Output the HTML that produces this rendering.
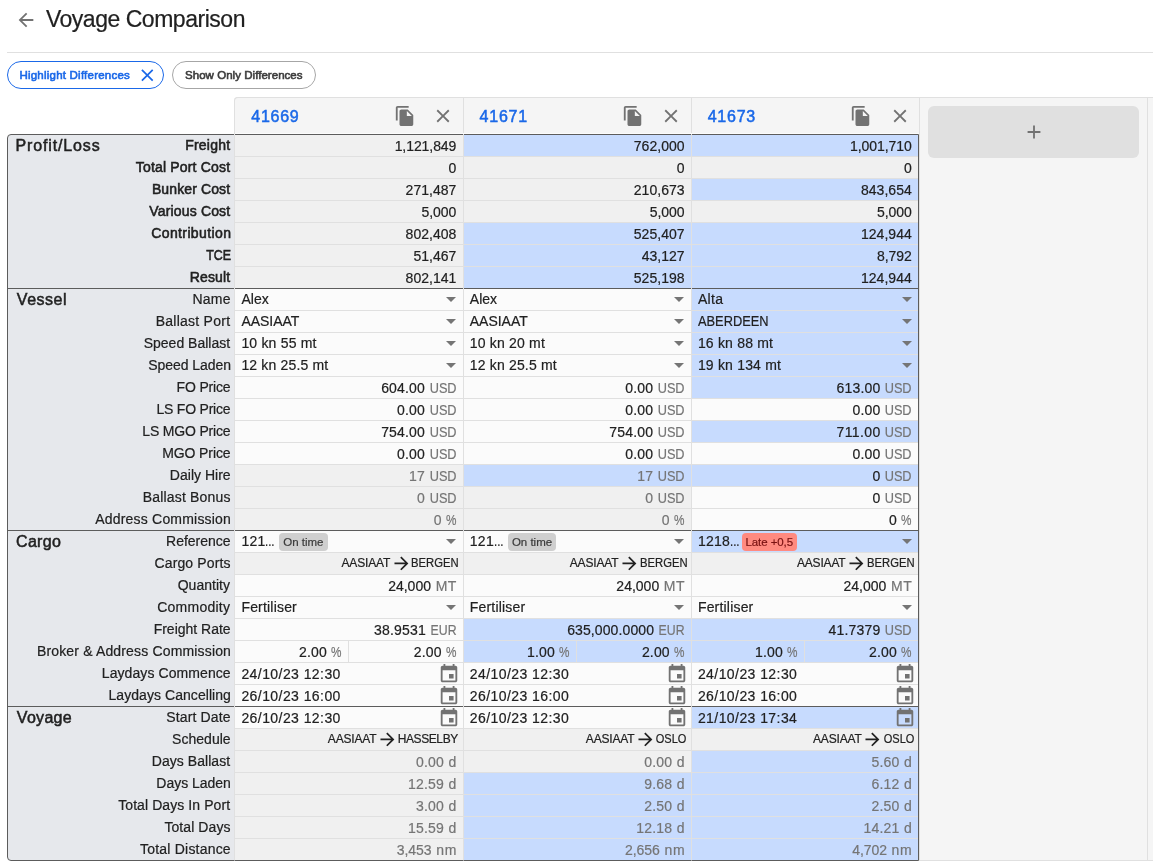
<!DOCTYPE html>
<html lang="en"><head><meta charset="utf-8"><title>Voyage Comparison</title>
<style>
html,body{margin:0;padding:0}
body{width:1153px;height:867px;position:relative;overflow:hidden;background:#fff;
  font-family:"Liberation Sans",sans-serif;font-size:14px;color:#212121}
body *{box-sizing:border-box}
div,span,svg,i,b{position:absolute;white-space:nowrap}
.root{left:0;top:0;width:1153px;height:867px;will-change:transform}
span{font-size:14px;line-height:16px;-webkit-text-stroke:0.2px currentColor}
.ic{display:block}
.title{font-size:23px;line-height:26px;color:#212121}
.hr{left:7px;top:52px;width:1146px;height:1px;background:#e0e0e0}
.chip1{left:7px;top:61px;width:157px;height:28px;border:1px solid #1a68e8;border-radius:14px}
.chip2{left:172px;top:61px;width:144px;height:28px;border:1px solid #a6a6a6;border-radius:14px}
.ch1,.ch2{font-size:11.5px;line-height:13px;-webkit-text-stroke:0.6px currentColor}
.ch1{color:#1a68e8}
.ch2{color:#3c3c3c}

.hdrbg{left:234px;top:97px;width:919px;border-top-left-radius:4px;height:764px;background:#f5f5f5;border-top:1px solid #e0e0e0;border-bottom:1px solid #e0e0e0}
.hc{top:97px;height:38px;border-left:1px solid #e0e0e0;border-top:1px solid #e0e0e0;background:#f5f5f5}
.hc.first{border-top-left-radius:4px}
.hc.tall{height:764px;border-bottom:1px solid #e0e0e0}
.vid{font-size:16px;line-height:17px;color:#1a68e8;-webkit-text-stroke:0.5px currentColor}
.plus{left:928px;top:106px;width:211px;height:52px;border-radius:6px;background:#e0e0e0}

.tbl{left:7px;top:134px;width:912px;border:1px solid #5c5c5c;border-radius:4px 0 0 4px;background:#e6e8ec}
.sec{font-size:16px;line-height:17px;-webkit-text-stroke:0.5px currentColor;color:#212121}
.l{color:#212121}
.l.b{-webkit-text-stroke:0.55px currentColor}
.hw{left:235px;top:133px;width:684px;height:1px;background:#fcfcfc}
.vb{top:134px;width:1px;height:1px;background:#e0e0e0}
.secline{left:8px;width:226px;height:1px;background:#5c5c5c}

.c{height:22px;background:#fbfbfb;border-left:1px solid #e0e0e0;border-bottom:1px solid #e0e0e0;overflow:hidden}
.c.ro{background:#f0f0f0}
.c.hl{background:#c7dbfe}
.c.lr{border-bottom-color:#5c5c5c}
.u,.g{color:#757575}
.pc{transform-origin:100% 50%}
.r{font-size:12px;line-height:14px}
.dd{top:7.900px}
.vd{top:0;width:1px;height:21px;background:#e0e0e0}
.chip{top:2px;height:17.500px;border-radius:4px}
.chip.ontime{background:#cfcfcf}
.chip.late{background:#ff8a80}
.ct{font-size:11.5px;line-height:13px;color:#3a3a3a}
.ct.late{color:#7a1212;background:none}
.ct.ontime{background:none}

</style></head>
<body>
<div class="root">

<svg class="ic" style="left:15.2px;top:9.2px" width="22" height="22" viewBox="0 0 24 24"><path d="M20 11H7.830l5.590-5.590L12 4l-8 8 8 8 1.410-1.410L7.830 13H20v-2z" fill="#727272"/></svg>
<span class="title" style="top:6px;left:45.88px;letter-spacing:-0.47px;">Voyage Comparison</span>
<div class="hr"></div>
<div class="chip1"></div>
<span class="ch1" style="top:69px;left:19.46px;letter-spacing:0.22px;">Highlight Differences</span>
<svg class="ic" style="left:136.7px;top:64.7px" width="20.6" height="20.6" viewBox="0 0 24 24"><path d="M19 6.410L17.590 5 12 10.590 6.410 5 5 6.410 10.590 12 5 17.590 6.410 19 12 13.410 17.590 19 19 17.590 13.410 12z" fill="#1a68e8"/></svg>
<div class="chip2"></div>
<span class="ch2" style="top:69px;left:185px;letter-spacing:0.04px;">Show Only Differences</span>
<div class="hdrbg"></div>
<div class="hc first" style="left:234px;width:229px"><span class="vid" style="top:10px;left:16.22px;letter-spacing:0.76px;">41669</span><svg class="ic" style="left:158.8px;top:7.3px" width="22" height="22" viewBox="0 0 24 24"><path d="M16 1H4c-1.100 0-2 .900-2 2v14h2V3h12V1zm-1 4l6 6v10c0 1.100-.900 2-2 2H7.990C6.890 23 6 22.100 6 21l.010-14c0-1.100.890-2 1.990-2h7zm-1 7h5.500L14 6.500V12z" fill="#727272"/></svg><svg class="ic" style="left:197.2px;top:7.2px" width="22" height="22" viewBox="0 0 24 24"><path d="M19 6.410L17.590 5 12 10.590 6.410 5 5 6.410 10.590 12 5 17.590 6.410 19 12 13.410 17.590 19 19 17.590 13.410 12z" fill="#727272"/></svg></div>
<div class="hc" style="left:463px;width:228px"><span class="vid" style="top:10px;left:15.62px;letter-spacing:0.76px;">41671</span><svg class="ic" style="left:157.8px;top:7.3px" width="22" height="22" viewBox="0 0 24 24"><path d="M16 1H4c-1.100 0-2 .900-2 2v14h2V3h12V1zm-1 4l6 6v10c0 1.100-.900 2-2 2H7.990C6.890 23 6 22.100 6 21l.010-14c0-1.100.890-2 1.990-2h7zm-1 7h5.500L14 6.500V12z" fill="#727272"/></svg><svg class="ic" style="left:196.2px;top:7.2px" width="22" height="22" viewBox="0 0 24 24"><path d="M19 6.410L17.590 5 12 10.590 6.410 5 5 6.410 10.590 12 5 17.590 6.410 19 12 13.410 17.590 19 19 17.590 13.410 12z" fill="#727272"/></svg></div>
<div class="hc" style="left:691px;width:228px"><span class="vid" style="top:10px;left:15.73px;letter-spacing:0.74px;">41673</span><svg class="ic" style="left:158.3px;top:7.3px" width="22" height="22" viewBox="0 0 24 24"><path d="M16 1H4c-1.100 0-2 .900-2 2v14h2V3h12V1zm-1 4l6 6v10c0 1.100-.900 2-2 2H7.990C6.890 23 6 22.100 6 21l.010-14c0-1.100.890-2 1.990-2h7zm-1 7h5.500L14 6.500V12z" fill="#727272"/></svg><svg class="ic" style="left:196.7px;top:7.2px" width="22" height="22" viewBox="0 0 24 24"><path d="M19 6.410L17.590 5 12 10.590 6.410 5 5 6.410 10.590 12 5 17.590 6.410 19 12 13.410 17.590 19 19 17.590 13.410 12z" fill="#727272"/></svg></div>
<div class="hc tall" style="left:919px;width:228px"></div>
<div class="hc tall" style="left:1147px;width:6px"></div>
<div class="plus"><svg class="ic" style="left:95.2px;top:15.2px" width="22" height="22" viewBox="0 0 24 24"><path d="M19 13h-6v6h-2v-6H5v-2h6V5h2v6h6v2z" fill="#727272"/></svg></div>
<div class="tbl" style="height:727px"></div>
<i class="hw"></i>
<i class="vb" style="left:234px"></i>
<i class="vb" style="left:463px"></i>
<i class="vb" style="left:691px"></i>
<span class="sec" style="top:137px;left:15.59px;letter-spacing:0.85px;">Profit/Loss</span>
<span class="l b" style="top:137px;right:922.71px;letter-spacing:0.22px;">Freight</span>
<div class="c ro" style="left:234px;top:135px;width:229px"><span class="n" style="top:3px;right:6.72px;letter-spacing:-0.07px;">1,121,849</span></div>
<div class="c ro hl" style="left:463px;top:135px;width:228px"><span class="n" style="top:3px;right:6.42px;letter-spacing:0.03px;">762,000</span></div>
<div class="c ro hl" style="left:691px;top:135px;width:227px"><span class="n" style="top:3px;right:6.32px;letter-spacing:-0.07px;">1,001,710</span></div>
<span class="l b" style="top:159px;right:922.76px;letter-spacing:0.18px;">Total Port Cost</span>
<div class="c ro" style="left:234px;top:157px;width:229px"><span class="n" style="top:3px;right:6.65px;">0</span></div>
<div class="c ro" style="left:463px;top:157px;width:228px"><span class="n" style="top:3px;right:6.45px;">0</span></div>
<div class="c ro" style="left:691px;top:157px;width:227px"><span class="n" style="top:3px;right:6.25px;">0</span></div>
<span class="l b" style="top:181px;right:922.78px;letter-spacing:0.12px;">Bunker Cost</span>
<div class="c ro" style="left:234px;top:179px;width:229px"><span class="n" style="top:3px;right:6.62px;letter-spacing:0.03px;">271,487</span></div>
<div class="c ro" style="left:463px;top:179px;width:228px"><span class="n" style="top:3px;right:6.42px;letter-spacing:0.03px;">210,673</span></div>
<div class="c ro hl" style="left:691px;top:179px;width:227px"><span class="n" style="top:3px;right:6.22px;letter-spacing:0.03px;">843,654</span></div>
<span class="l b" style="top:203px;right:922.74px;letter-spacing:0.15px;">Various Cost</span>
<div class="c ro" style="left:234px;top:201px;width:229px"><span class="n" style="top:3px;right:6.71px;letter-spacing:-0.06px;">5,000</span></div>
<div class="c ro" style="left:463px;top:201px;width:228px"><span class="n" style="top:3px;right:6.51px;letter-spacing:-0.06px;">5,000</span></div>
<div class="c ro" style="left:691px;top:201px;width:227px"><span class="n" style="top:3px;right:6.31px;letter-spacing:-0.06px;">5,000</span></div>
<span class="l b" style="top:225px;right:921.69px;letter-spacing:0.38px;">Contribution</span>
<div class="c ro" style="left:234px;top:223px;width:229px"><span class="n" style="top:3px;right:6.62px;letter-spacing:0.03px;">802,408</span></div>
<div class="c ro hl" style="left:463px;top:223px;width:228px"><span class="n" style="top:3px;right:6.42px;letter-spacing:0.03px;">525,407</span></div>
<div class="c ro hl" style="left:691px;top:223px;width:227px"><span class="n" style="top:3px;right:6.22px;letter-spacing:0.03px;">124,944</span></div>
<span class="l b" style="top:247px;right:922.44px;transform:scaleX(0.8848);transform-origin:100% 50%;">TCE</span>
<div class="c ro" style="left:234px;top:245px;width:229px"><span class="n" style="top:3px;right:6.65px;">51,467</span></div>
<div class="c ro hl" style="left:463px;top:245px;width:228px"><span class="n" style="top:3px;right:6.45px;">43,127</span></div>
<div class="c ro hl" style="left:691px;top:245px;width:227px"><span class="n" style="top:3px;right:6.31px;letter-spacing:-0.06px;">8,792</span></div>
<span class="l b" style="top:269px;right:922.82px;letter-spacing:0.12px;">Result</span>
<div class="c ro lr" style="left:234px;top:267px;width:229px"><span class="n" style="top:3px;right:6.62px;letter-spacing:0.03px;">802,141</span></div>
<div class="c ro hl lr" style="left:463px;top:267px;width:228px"><span class="n" style="top:3px;right:6.42px;letter-spacing:0.03px;">525,198</span></div>
<div class="c ro hl lr" style="left:691px;top:267px;width:227px"><span class="n" style="top:3px;right:6.22px;letter-spacing:0.03px;">124,944</span></div>
<div class="secline" style="top:288px"></div>
<i class="vb" style="left:234px;top:288px"></i>
<i class="vb" style="left:463px;top:288px"></i>
<i class="vb" style="left:691px;top:288px"></i>
<span class="sec" style="top:291px;left:16.84px;letter-spacing:0.52px;">Vessel</span>
<span class="l" style="top:291px;right:922.11px;letter-spacing:0.29px;">Name</span>
<div class="c" style="left:234px;top:289px;width:229px"><span class="t" style="top:2px;left:6.4px;letter-spacing:0.03px;">Alex</span><svg class="dd" style="left:211.2px" width="10" height="5" viewBox="0 0 10 5"><path d="M0 0h10L5 5z" fill="#757575"/></svg></div>
<div class="c" style="left:463px;top:289px;width:228px"><span class="t" style="top:2px;left:5.8px;letter-spacing:0.03px;">Alex</span><svg class="dd" style="left:210.4px" width="10" height="5" viewBox="0 0 10 5"><path d="M0 0h10L5 5z" fill="#757575"/></svg></div>
<div class="c hl" style="left:691px;top:289px;width:227px"><span class="t" style="top:2px;left:5.9px;letter-spacing:0.35px;">Alta</span><svg class="dd" style="left:209.6px" width="10" height="5" viewBox="0 0 10 5"><path d="M0 0h10L5 5z" fill="#757575"/></svg></div>
<span class="l" style="top:313px;right:922.66px;letter-spacing:0.26px;">Ballast Port</span>
<div class="c" style="left:234px;top:311px;width:229px"><span class="t" style="top:2px;left:6.4px;letter-spacing:-0.03px;">AASIAAT</span><svg class="dd" style="left:211.2px" width="10" height="5" viewBox="0 0 10 5"><path d="M0 0h10L5 5z" fill="#757575"/></svg></div>
<div class="c" style="left:463px;top:311px;width:228px"><span class="t" style="top:2px;left:5.8px;letter-spacing:-0.03px;">AASIAAT</span><svg class="dd" style="left:210.4px" width="10" height="5" viewBox="0 0 10 5"><path d="M0 0h10L5 5z" fill="#757575"/></svg></div>
<div class="c hl" style="left:691px;top:311px;width:227px"><span class="t" style="top:2px;left:5.9px;transform:scaleX(0.9160);transform-origin:0 50%;">ABERDEEN</span><svg class="dd" style="left:209.6px" width="10" height="5" viewBox="0 0 10 5"><path d="M0 0h10L5 5z" fill="#757575"/></svg></div>
<span class="l" style="top:335px;right:922.92px;">Speed Ballast</span>
<div class="c" style="left:234px;top:333px;width:229px"><span class="t" style="top:2px;left:6.4px;letter-spacing:0.19px;">10 kn 55 mt</span><svg class="dd" style="left:211.2px" width="10" height="5" viewBox="0 0 10 5"><path d="M0 0h10L5 5z" fill="#757575"/></svg></div>
<div class="c" style="left:463px;top:333px;width:228px"><span class="t" style="top:2px;left:5.8px;letter-spacing:0.19px;">10 kn 20 mt</span><svg class="dd" style="left:210.4px" width="10" height="5" viewBox="0 0 10 5"><path d="M0 0h10L5 5z" fill="#757575"/></svg></div>
<div class="c hl" style="left:691px;top:333px;width:227px"><span class="t" style="top:2px;left:5.9px;letter-spacing:0.19px;">16 kn 88 mt</span><svg class="dd" style="left:209.6px" width="10" height="5" viewBox="0 0 10 5"><path d="M0 0h10L5 5z" fill="#757575"/></svg></div>
<span class="l" style="top:357px;right:922.14px;letter-spacing:-0.07px;">Speed Laden</span>
<div class="c" style="left:234px;top:355px;width:229px"><span class="t" style="top:2px;left:6.4px;letter-spacing:0.17px;">12 kn 25.5 mt</span><svg class="dd" style="left:211.2px" width="10" height="5" viewBox="0 0 10 5"><path d="M0 0h10L5 5z" fill="#757575"/></svg></div>
<div class="c" style="left:463px;top:355px;width:228px"><span class="t" style="top:2px;left:5.8px;letter-spacing:0.17px;">12 kn 25.5 mt</span><svg class="dd" style="left:210.4px" width="10" height="5" viewBox="0 0 10 5"><path d="M0 0h10L5 5z" fill="#757575"/></svg></div>
<div class="c hl" style="left:691px;top:355px;width:227px"><span class="t" style="top:2px;left:5.9px;letter-spacing:0.19px;">19 kn 134 mt</span><svg class="dd" style="left:209.6px" width="10" height="5" viewBox="0 0 10 5"><path d="M0 0h10L5 5z" fill="#757575"/></svg></div>
<span class="l" style="top:379px;right:922.57px;letter-spacing:-0.17px;">FO Price</span>
<div class="c" style="left:234px;top:377px;width:229px"><span class="u" style="top:3px;right:6.65px;transform:scaleX(0.9088);transform-origin:100% 50%;">USD</span><span class="n" style="top:3px;right:37.98px;letter-spacing:0.18px;">604.00</span></div>
<div class="c" style="left:463px;top:377px;width:228px"><span class="u" style="top:3px;right:6.45px;transform:scaleX(0.9088);transform-origin:100% 50%;">USD</span><span class="n" style="top:3px;right:37.81px;letter-spacing:0.16px;">0.00</span></div>
<div class="c hl" style="left:691px;top:377px;width:227px"><span class="u" style="top:3px;right:6.25px;transform:scaleX(0.9088);transform-origin:100% 50%;">USD</span><span class="n" style="top:3px;right:37.58px;letter-spacing:0.18px;">613.00</span></div>
<span class="l" style="top:401px;right:922.58px;letter-spacing:-0.2px;">LS FO Price</span>
<div class="c" style="left:234px;top:399px;width:229px"><span class="u" style="top:3px;right:6.65px;transform:scaleX(0.9088);transform-origin:100% 50%;">USD</span><span class="n" style="top:3px;right:38.01px;letter-spacing:0.16px;">0.00</span></div>
<div class="c" style="left:463px;top:399px;width:228px"><span class="u" style="top:3px;right:6.45px;transform:scaleX(0.9088);transform-origin:100% 50%;">USD</span><span class="n" style="top:3px;right:37.81px;letter-spacing:0.16px;">0.00</span></div>
<div class="c" style="left:691px;top:399px;width:227px"><span class="u" style="top:3px;right:6.25px;transform:scaleX(0.9088);transform-origin:100% 50%;">USD</span><span class="n" style="top:3px;right:37.61px;letter-spacing:0.16px;">0.00</span></div>
<span class="l" style="top:423px;right:922.57px;letter-spacing:-0.18px;">LS MGO Price</span>
<div class="c" style="left:234px;top:421px;width:229px"><span class="u" style="top:3px;right:6.65px;transform:scaleX(0.9088);transform-origin:100% 50%;">USD</span><span class="n" style="top:3px;right:37.98px;letter-spacing:0.18px;">754.00</span></div>
<div class="c" style="left:463px;top:421px;width:228px"><span class="u" style="top:3px;right:6.45px;transform:scaleX(0.9088);transform-origin:100% 50%;">USD</span><span class="n" style="top:3px;right:37.78px;letter-spacing:0.18px;">754.00</span></div>
<div class="c hl" style="left:691px;top:421px;width:227px"><span class="u" style="top:3px;right:6.25px;transform:scaleX(0.9088);transform-origin:100% 50%;">USD</span><span class="n" style="top:3px;right:37.37px;letter-spacing:0.39px;">711.00</span></div>
<span class="l" style="top:445px;right:922.5px;letter-spacing:-0.1px;">MGO Price</span>
<div class="c" style="left:234px;top:443px;width:229px"><span class="u" style="top:3px;right:6.65px;transform:scaleX(0.9088);transform-origin:100% 50%;">USD</span><span class="n" style="top:3px;right:38.01px;letter-spacing:0.16px;">0.00</span></div>
<div class="c" style="left:463px;top:443px;width:228px"><span class="u" style="top:3px;right:6.45px;transform:scaleX(0.9088);transform-origin:100% 50%;">USD</span><span class="n" style="top:3px;right:37.81px;letter-spacing:0.16px;">0.00</span></div>
<div class="c" style="left:691px;top:443px;width:227px"><span class="u" style="top:3px;right:6.25px;transform:scaleX(0.9088);transform-origin:100% 50%;">USD</span><span class="n" style="top:3px;right:37.61px;letter-spacing:0.16px;">0.00</span></div>
<span class="l" style="top:467px;right:922.38px;letter-spacing:0.01px;">Daily Hire</span>
<div class="c ro" style="left:234px;top:465px;width:229px"><span class="u" style="top:3px;right:6.65px;transform:scaleX(0.9088);transform-origin:100% 50%;">USD</span><span class="n g" style="top:3px;right:37.86px;letter-spacing:0.3px;">17</span></div>
<div class="c ro hl" style="left:463px;top:465px;width:228px"><span class="u" style="top:3px;right:6.45px;transform:scaleX(0.9088);transform-origin:100% 50%;">USD</span><span class="n g" style="top:3px;right:37.66px;letter-spacing:0.3px;">17</span></div>
<div class="c hl" style="left:691px;top:465px;width:227px"><span class="u" style="top:3px;right:6.25px;transform:scaleX(0.9088);transform-origin:100% 50%;">USD</span><span class="n" style="top:3px;right:37.76px;">0</span></div>
<span class="l" style="top:489px;right:922.34px;letter-spacing:0.17px;">Ballast Bonus</span>
<div class="c ro" style="left:234px;top:487px;width:229px"><span class="u" style="top:3px;right:6.65px;transform:scaleX(0.9088);transform-origin:100% 50%;">USD</span><span class="n g" style="top:3px;right:38.16px;">0</span></div>
<div class="c ro" style="left:463px;top:487px;width:228px"><span class="u" style="top:3px;right:6.45px;transform:scaleX(0.9088);transform-origin:100% 50%;">USD</span><span class="n g" style="top:3px;right:37.96px;">0</span></div>
<div class="c" style="left:691px;top:487px;width:227px"><span class="u" style="top:3px;right:6.25px;transform:scaleX(0.9088);transform-origin:100% 50%;">USD</span><span class="n" style="top:3px;right:37.76px;">0</span></div>
<span class="l" style="top:511px;right:921.91px;letter-spacing:0.2px;">Address Commission</span>
<div class="c ro lr" style="left:234px;top:509px;width:229px"><span class="u pc" style="top:3px;right:6.65px;transform:scaleX(0.84);">%</span><span class="n g" style="top:3px;right:21.55px;">0</span></div>
<div class="c ro lr" style="left:463px;top:509px;width:228px"><span class="u pc" style="top:3px;right:6.45px;transform:scaleX(0.84);">%</span><span class="n g" style="top:3px;right:21.35px;">0</span></div>
<div class="c lr" style="left:691px;top:509px;width:227px"><span class="u pc" style="top:3px;right:6.25px;transform:scaleX(0.84);">%</span><span class="n" style="top:3px;right:21.15px;">0</span></div>
<div class="secline" style="top:530px"></div>
<i class="vb" style="left:234px;top:530px"></i>
<i class="vb" style="left:463px;top:530px"></i>
<i class="vb" style="left:691px;top:530px"></i>
<span class="sec" style="top:533px;left:16.09px;letter-spacing:0.29px;">Cargo</span>
<span class="l" style="top:533px;right:922.42px;letter-spacing:-0.01px;">Reference</span>
<div class="c" style="left:234px;top:531px;width:229px"><span class="t" style="top:2px;left:6.4px;letter-spacing:0.26px;">121</span><span class="t" style="top:2px;left:30.43px;transform:scaleX(0.8190);transform-origin:0 50%;">...</span><b class="chip ontime" style="left:44px;width:48.8px"></b><span class="ct ontime" style="top:5px;left:48.3px;letter-spacing:-0.01px;">On time</span><svg class="dd" style="left:211.2px" width="10" height="5" viewBox="0 0 10 5"><path d="M0 0h10L5 5z" fill="#757575"/></svg></div>
<div class="c" style="left:463px;top:531px;width:228px"><span class="t" style="top:2px;left:5.8px;letter-spacing:0.26px;">121</span><span class="t" style="top:2px;left:29.83px;transform:scaleX(0.8190);transform-origin:0 50%;">...</span><b class="chip ontime" style="left:43.6px;width:48.8px"></b><span class="ct ontime" style="top:5px;left:47.9px;letter-spacing:-0.01px;">On time</span><svg class="dd" style="left:210.4px" width="10" height="5" viewBox="0 0 10 5"><path d="M0 0h10L5 5z" fill="#757575"/></svg></div>
<div class="c hl" style="left:691px;top:531px;width:227px"><span class="t" style="top:2px;left:5.9px;letter-spacing:0.25px;">1218</span><span class="t" style="top:2px;left:37.94px;transform:scaleX(0.8190);transform-origin:0 50%;">...</span><b class="chip late" style="left:50px;width:55px"></b><span class="ct late" style="top:5px;left:53.46px;letter-spacing:-0.08px;">Late +0,5</span><svg class="dd" style="left:209.6px" width="10" height="5" viewBox="0 0 10 5"><path d="M0 0h10L5 5z" fill="#757575"/></svg></div>
<span class="l" style="top:555px;right:922.36px;letter-spacing:0.13px;">Cargo Ports</span>
<div class="c ro" style="left:234px;top:553px;width:229px"><span class="r" style="top:3px;right:4.01px;transform:scaleX(0.9391);transform-origin:100% 50%;">BERGEN</span><svg class="ic" style="left:155.92px;top:0.07px" width="20.85" height="20.85" viewBox="0 0 24 24"><path d="M12 4l-1.410 1.410L16.170 11H4v2h12.170l-5.580 5.590L12 20l8-8z" fill="#212121"/></svg><span class="r" style="top:3px;right:72.87px;letter-spacing:-0.17px;">AASIAAT</span></div>
<div class="c ro" style="left:463px;top:553px;width:228px"><span class="r" style="top:3px;right:3.81px;transform:scaleX(0.9391);transform-origin:100% 50%;">BERGEN</span><svg class="ic" style="left:155.12px;top:0.07px" width="20.85" height="20.85" viewBox="0 0 24 24"><path d="M12 4l-1.410 1.410L16.170 11H4v2h12.170l-5.580 5.590L12 20l8-8z" fill="#212121"/></svg><span class="r" style="top:3px;right:72.67px;letter-spacing:-0.17px;">AASIAAT</span></div>
<div class="c ro" style="left:691px;top:553px;width:227px"><span class="r" style="top:3px;right:3.61px;transform:scaleX(0.9391);transform-origin:100% 50%;">BERGEN</span><svg class="ic" style="left:154.32px;top:0.07px" width="20.85" height="20.85" viewBox="0 0 24 24"><path d="M12 4l-1.410 1.410L16.170 11H4v2h12.170l-5.580 5.590L12 20l8-8z" fill="#212121"/></svg><span class="r" style="top:3px;right:72.47px;letter-spacing:-0.17px;">AASIAAT</span></div>
<span class="l" style="top:577px;right:922.96px;letter-spacing:0.03px;">Quantity</span>
<div class="c" style="left:234px;top:575px;width:229px"><span class="u" style="top:3px;right:6.14px;letter-spacing:0.51px;">MT</span><span class="n" style="top:3px;right:32.03px;">24,000</span></div>
<div class="c" style="left:463px;top:575px;width:228px"><span class="u" style="top:3px;right:5.94px;letter-spacing:0.51px;">MT</span><span class="n" style="top:3px;right:31.83px;">24,000</span></div>
<div class="c" style="left:691px;top:575px;width:227px"><span class="u" style="top:3px;right:5.74px;letter-spacing:0.51px;">MT</span><span class="n" style="top:3px;right:31.63px;">24,000</span></div>
<span class="l" style="top:599px;right:922.77px;letter-spacing:0.25px;">Commodity</span>
<div class="c" style="left:234px;top:597px;width:229px"><span class="t" style="top:2px;left:6.4px;letter-spacing:0.19px;">Fertiliser</span><svg class="dd" style="left:211.2px" width="10" height="5" viewBox="0 0 10 5"><path d="M0 0h10L5 5z" fill="#757575"/></svg></div>
<div class="c" style="left:463px;top:597px;width:228px"><span class="t" style="top:2px;left:5.8px;letter-spacing:0.19px;">Fertiliser</span><svg class="dd" style="left:210.4px" width="10" height="5" viewBox="0 0 10 5"><path d="M0 0h10L5 5z" fill="#757575"/></svg></div>
<div class="c" style="left:691px;top:597px;width:227px"><span class="t" style="top:2px;left:5.9px;letter-spacing:0.19px;">Fertiliser</span><svg class="dd" style="left:209.6px" width="10" height="5" viewBox="0 0 10 5"><path d="M0 0h10L5 5z" fill="#757575"/></svg></div>
<span class="l" style="top:621px;right:922.41px;letter-spacing:-0.01px;">Freight Rate</span>
<div class="c" style="left:234px;top:619px;width:229px"><span class="u" style="top:3px;right:6.65px;transform:scaleX(0.8781);transform-origin:100% 50%;">EUR</span><span class="n" style="top:3px;right:37.06px;letter-spacing:0.19px;">38.9531</span></div>
<div class="c hl" style="left:463px;top:619px;width:228px"><span class="u" style="top:3px;right:6.45px;transform:scaleX(0.8781);transform-origin:100% 50%;">EUR</span><span class="n" style="top:3px;right:36.96px;letter-spacing:0.1px;">635,000.0000</span></div>
<div class="c hl" style="left:691px;top:619px;width:227px"><span class="u" style="top:3px;right:6.25px;transform:scaleX(0.9088);transform-origin:100% 50%;">USD</span><span class="n" style="top:3px;right:37.57px;letter-spacing:0.19px;">41.7379</span></div>
<span class="l" style="top:643px;right:921.94px;letter-spacing:0.16px;">Broker &amp; Address Commission</span>
<div class="c" style="left:234px;top:641px;width:229px"><i class="vd" style="left:113px"></i><span class="u pc" style="top:3px;right:121.35px;transform:scaleX(0.84);">%</span><span class="n" style="top:3px;right:136.1px;letter-spacing:0.16px;">2.00</span><span class="u pc" style="top:3px;right:6.65px;transform:scaleX(0.84);">%</span><span class="n" style="top:3px;right:21.4px;letter-spacing:0.16px;">2.00</span></div>
<div class="c hl" style="left:463px;top:641px;width:228px"><i class="vd" style="left:112px"></i><span class="u pc" style="top:3px;right:121.35px;transform:scaleX(0.84);">%</span><span class="n" style="top:3px;right:136.1px;letter-spacing:0.16px;">1.00</span><span class="u pc" style="top:3px;right:6.45px;transform:scaleX(0.84);">%</span><span class="n" style="top:3px;right:21.2px;letter-spacing:0.16px;">2.00</span></div>
<div class="c hl" style="left:691px;top:641px;width:227px"><i class="vd" style="left:112px"></i><span class="u pc" style="top:3px;right:120.35px;transform:scaleX(0.84);">%</span><span class="n" style="top:3px;right:135.1px;letter-spacing:0.16px;">1.00</span><span class="u pc" style="top:3px;right:6.25px;transform:scaleX(0.84);">%</span><span class="n" style="top:3px;right:21px;letter-spacing:0.16px;">2.00</span></div>
<span class="l" style="top:665px;right:922.31px;letter-spacing:0.08px;">Laydays Commence</span>
<div class="c" style="left:234px;top:663px;width:229px"><span class="t" style="top:3px;left:6.4px;letter-spacing:0.43px;">24/10/23 12:30</span><svg class="ic" style="left:203.15px;top:0.2px" width="22" height="22" viewBox="0 0 24 24"><path d="M17 12h-5v5h5v-5zM16 1v2H8V1H6v2H5c-1.110 0-1.990.900-1.990 2L3 19c0 1.100.890 2 2 2h14c1.100 0 2-.900 2-2V5c0-1.100-.900-2-2-2h-1V1h-2zm3 18H5V8h14v11z" fill="#727272"/></svg></div>
<div class="c" style="left:463px;top:663px;width:228px"><span class="t" style="top:3px;left:5.8px;letter-spacing:0.43px;">24/10/23 12:30</span><svg class="ic" style="left:202.35px;top:0.2px" width="22" height="22" viewBox="0 0 24 24"><path d="M17 12h-5v5h5v-5zM16 1v2H8V1H6v2H5c-1.110 0-1.990.900-1.990 2L3 19c0 1.100.890 2 2 2h14c1.100 0 2-.900 2-2V5c0-1.100-.900-2-2-2h-1V1h-2zm3 18H5V8h14v11z" fill="#727272"/></svg></div>
<div class="c" style="left:691px;top:663px;width:227px"><span class="t" style="top:3px;left:5.9px;letter-spacing:0.43px;">24/10/23 12:30</span><svg class="ic" style="left:201.55px;top:0.2px" width="22" height="22" viewBox="0 0 24 24"><path d="M17 12h-5v5h5v-5zM16 1v2H8V1H6v2H5c-1.110 0-1.990.900-1.990 2L3 19c0 1.100.890 2 2 2h14c1.100 0 2-.900 2-2V5c0-1.100-.900-2-2-2h-1V1h-2zm3 18H5V8h14v11z" fill="#727272"/></svg></div>
<span class="l" style="top:687px;right:922.03px;letter-spacing:0.06px;">Laydays Cancelling</span>
<div class="c lr" style="left:234px;top:685px;width:229px"><span class="t" style="top:3px;left:6.4px;letter-spacing:0.43px;">26/10/23 16:00</span><svg class="ic" style="left:203.15px;top:0.2px" width="22" height="22" viewBox="0 0 24 24"><path d="M17 12h-5v5h5v-5zM16 1v2H8V1H6v2H5c-1.110 0-1.990.900-1.990 2L3 19c0 1.100.890 2 2 2h14c1.100 0 2-.900 2-2V5c0-1.100-.900-2-2-2h-1V1h-2zm3 18H5V8h14v11z" fill="#727272"/></svg></div>
<div class="c lr" style="left:463px;top:685px;width:228px"><span class="t" style="top:3px;left:5.8px;letter-spacing:0.43px;">26/10/23 16:00</span><svg class="ic" style="left:202.35px;top:0.2px" width="22" height="22" viewBox="0 0 24 24"><path d="M17 12h-5v5h5v-5zM16 1v2H8V1H6v2H5c-1.110 0-1.990.900-1.990 2L3 19c0 1.100.890 2 2 2h14c1.100 0 2-.900 2-2V5c0-1.100-.900-2-2-2h-1V1h-2zm3 18H5V8h14v11z" fill="#727272"/></svg></div>
<div class="c lr" style="left:691px;top:685px;width:227px"><span class="t" style="top:3px;left:5.9px;letter-spacing:0.43px;">26/10/23 16:00</span><svg class="ic" style="left:201.55px;top:0.2px" width="22" height="22" viewBox="0 0 24 24"><path d="M17 12h-5v5h5v-5zM16 1v2H8V1H6v2H5c-1.110 0-1.990.900-1.990 2L3 19c0 1.100.890 2 2 2h14c1.100 0 2-.900 2-2V5c0-1.100-.900-2-2-2h-1V1h-2zm3 18H5V8h14v11z" fill="#727272"/></svg></div>
<div class="secline" style="top:706px"></div>
<i class="vb" style="left:234px;top:706px"></i>
<i class="vb" style="left:463px;top:706px"></i>
<i class="vb" style="left:691px;top:706px"></i>
<span class="sec" style="top:709px;left:16.84px;letter-spacing:0.3px;">Voyage</span>
<span class="l" style="top:709px;right:922.26px;letter-spacing:0.15px;">Start Date</span>
<div class="c" style="left:234px;top:707px;width:229px"><span class="t" style="top:3px;left:6.4px;letter-spacing:0.43px;">26/10/23 12:30</span><svg class="ic" style="left:203.15px;top:0.2px" width="22" height="22" viewBox="0 0 24 24"><path d="M17 12h-5v5h5v-5zM16 1v2H8V1H6v2H5c-1.110 0-1.990.900-1.990 2L3 19c0 1.100.890 2 2 2h14c1.100 0 2-.900 2-2V5c0-1.100-.900-2-2-2h-1V1h-2zm3 18H5V8h14v11z" fill="#727272"/></svg></div>
<div class="c" style="left:463px;top:707px;width:228px"><span class="t" style="top:3px;left:5.8px;letter-spacing:0.43px;">26/10/23 12:30</span><svg class="ic" style="left:202.35px;top:0.2px" width="22" height="22" viewBox="0 0 24 24"><path d="M17 12h-5v5h5v-5zM16 1v2H8V1H6v2H5c-1.110 0-1.990.900-1.990 2L3 19c0 1.100.890 2 2 2h14c1.100 0 2-.900 2-2V5c0-1.100-.900-2-2-2h-1V1h-2zm3 18H5V8h14v11z" fill="#727272"/></svg></div>
<div class="c hl" style="left:691px;top:707px;width:227px"><span class="t" style="top:3px;left:5.9px;letter-spacing:0.43px;">21/10/23 17:34</span><svg class="ic" style="left:201.55px;top:0.2px" width="22" height="22" viewBox="0 0 24 24"><path d="M17 12h-5v5h5v-5zM16 1v2H8V1H6v2H5c-1.110 0-1.990.900-1.990 2L3 19c0 1.100.890 2 2 2h14c1.100 0 2-.900 2-2V5c0-1.100-.900-2-2-2h-1V1h-2zm3 18H5V8h14v11z" fill="#727272"/></svg></div>
<span class="l" style="top:731px;right:922.35px;letter-spacing:0.02px;">Schedule</span>
<div class="c ro" style="left:234px;top:729px;width:229px"><span class="r" style="top:3px;right:5.17px;letter-spacing:-0.4px;">HASSELBY</span><svg class="ic" style="left:142.22px;top:0.07px" width="20.85" height="20.85" viewBox="0 0 24 24"><path d="M12 4l-1.410 1.410L16.170 11H4v2h12.170l-5.580 5.590L12 20l8-8z" fill="#212121"/></svg><span class="r" style="top:3px;right:86.57px;letter-spacing:-0.17px;">AASIAAT</span></div>
<div class="c ro" style="left:463px;top:729px;width:228px"><span class="r" style="top:3px;right:4.2px;transform:scaleX(0.9194);transform-origin:100% 50%;">OSLO</span><svg class="ic" style="left:171.23px;top:0.07px" width="20.85" height="20.85" viewBox="0 0 24 24"><path d="M12 4l-1.410 1.410L16.170 11H4v2h12.170l-5.580 5.590L12 20l8-8z" fill="#212121"/></svg><span class="r" style="top:3px;right:56.57px;letter-spacing:-0.17px;">AASIAAT</span></div>
<div class="c ro" style="left:691px;top:729px;width:227px"><span class="r" style="top:3px;right:4px;transform:scaleX(0.9194);transform-origin:100% 50%;">OSLO</span><svg class="ic" style="left:170.42px;top:0.07px" width="20.85" height="20.85" viewBox="0 0 24 24"><path d="M12 4l-1.410 1.410L16.170 11H4v2h12.170l-5.580 5.590L12 20l8-8z" fill="#212121"/></svg><span class="r" style="top:3px;right:56.37px;letter-spacing:-0.17px;">AASIAAT</span></div>
<span class="l" style="top:753px;right:922.9px;letter-spacing:0.04px;">Days Ballast</span>
<div class="c ro" style="left:234px;top:751px;width:229px"><span class="u" style="top:3px;right:6.65px;">d</span><span class="n g" style="top:3px;right:19.04px;letter-spacing:0.16px;">0.00</span></div>
<div class="c ro" style="left:463px;top:751px;width:228px"><span class="u" style="top:3px;right:6.45px;">d</span><span class="n g" style="top:3px;right:18.84px;letter-spacing:0.16px;">0.00</span></div>
<div class="c ro hl" style="left:691px;top:751px;width:227px"><span class="u" style="top:3px;right:6.25px;">d</span><span class="n g" style="top:3px;right:18.64px;letter-spacing:0.16px;">5.60</span></div>
<span class="l" style="top:775px;right:922.12px;letter-spacing:-0.02px;">Days Laden</span>
<div class="c ro" style="left:234px;top:773px;width:229px"><span class="u" style="top:3px;right:6.65px;">d</span><span class="n g" style="top:3px;right:19.02px;letter-spacing:0.17px;">12.59</span></div>
<div class="c ro hl" style="left:463px;top:773px;width:228px"><span class="u" style="top:3px;right:6.45px;">d</span><span class="n g" style="top:3px;right:18.84px;letter-spacing:0.16px;">9.68</span></div>
<div class="c ro hl" style="left:691px;top:773px;width:227px"><span class="u" style="top:3px;right:6.25px;">d</span><span class="n g" style="top:3px;right:18.64px;letter-spacing:0.16px;">6.12</span></div>
<span class="l" style="top:797px;right:922.87px;letter-spacing:0.08px;">Total Days In Port</span>
<div class="c ro" style="left:234px;top:795px;width:229px"><span class="u" style="top:3px;right:6.65px;">d</span><span class="n g" style="top:3px;right:19.04px;letter-spacing:0.16px;">3.00</span></div>
<div class="c ro hl" style="left:463px;top:795px;width:228px"><span class="u" style="top:3px;right:6.45px;">d</span><span class="n g" style="top:3px;right:18.84px;letter-spacing:0.16px;">2.50</span></div>
<div class="c ro hl" style="left:691px;top:795px;width:227px"><span class="u" style="top:3px;right:6.25px;">d</span><span class="n g" style="top:3px;right:18.64px;letter-spacing:0.16px;">2.50</span></div>
<span class="l" style="top:819px;right:922.43px;letter-spacing:0.08px;">Total Days</span>
<div class="c ro" style="left:234px;top:817px;width:229px"><span class="u" style="top:3px;right:6.65px;">d</span><span class="n g" style="top:3px;right:19.02px;letter-spacing:0.17px;">15.59</span></div>
<div class="c ro hl" style="left:463px;top:817px;width:228px"><span class="u" style="top:3px;right:6.45px;">d</span><span class="n g" style="top:3px;right:18.82px;letter-spacing:0.17px;">12.18</span></div>
<div class="c ro hl" style="left:691px;top:817px;width:227px"><span class="u" style="top:3px;right:6.25px;">d</span><span class="n g" style="top:3px;right:18.62px;letter-spacing:0.17px;">14.21</span></div>
<span class="l" style="top:841px;right:922.18px;letter-spacing:0.2px;">Total Distance</span>
<div class="c ro lr" style="left:234px;top:839px;width:229px"><span class="u" style="top:3px;right:5.95px;letter-spacing:0.7px;">nm</span><span class="n g" style="top:3px;right:31.51px;letter-spacing:-0.06px;">3,453</span></div>
<div class="c ro hl lr" style="left:463px;top:839px;width:228px"><span class="u" style="top:3px;right:5.75px;letter-spacing:0.7px;">nm</span><span class="n g" style="top:3px;right:31.31px;letter-spacing:-0.06px;">2,656</span></div>
<div class="c ro hl lr" style="left:691px;top:839px;width:227px"><span class="u" style="top:3px;right:5.55px;letter-spacing:0.7px;">nm</span><span class="n g" style="top:3px;right:31.11px;letter-spacing:-0.06px;">4,702</span></div>
</div>
</body></html>
